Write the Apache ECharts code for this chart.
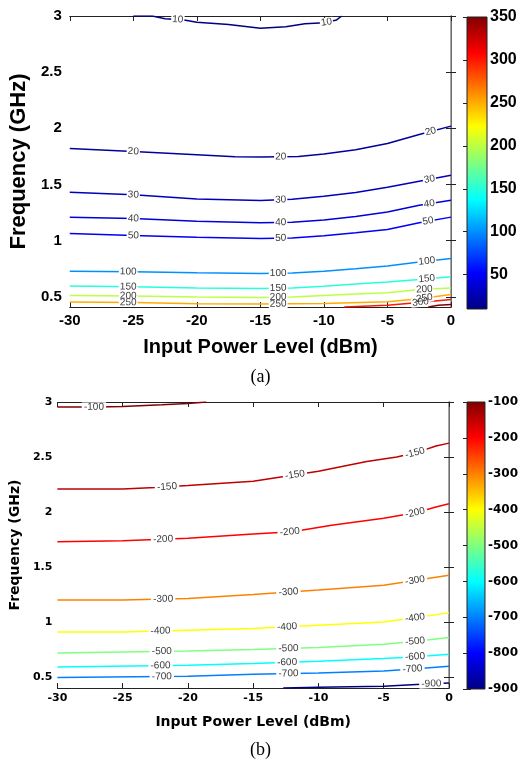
<!DOCTYPE html>
<html>
<head>
<meta charset="utf-8">
<script src="https://cdn.jsdelivr.net/npm/echarts@6/dist/echarts.min.js"></script>
<style>
  html, body { margin: 0; padding: 0; background: #fff; }
  #chart { width: 521px; height: 762px; }
</style>
</head>
<body>
<div id="chart"></div>
<script>
// ---- Panel (a): contour lines, [input power dBm, frequency GHz] ----
const levelsA = [10, 20, 30, 40, 50, 100, 150, 200, 250, 300, 350];
const a10  = [[-25, 3.0], [-23.5, 3.0], [-22.5, 2.975], [-21, 2.965], [-20, 2.945], [-17.5, 2.925], [-15, 2.89], [-13, 2.905], [-11.5, 2.93], [-10, 2.94], [-9, 2.965], [-8.6, 3.0]];
const a20  = [[-30, 1.82], [-25, 1.795], [-20, 1.766], [-17, 1.748], [-15, 1.745], [-12, 1.75], [-10, 1.772], [-7.5, 1.81], [-5, 1.865], [-2.5, 1.945], [0, 2.02]];
const a30  = [[-30, 1.431], [-25, 1.408], [-20, 1.372], [-15, 1.357], [-12.5, 1.37], [-10, 1.395], [-7.5, 1.43], [-5, 1.475], [-2.5, 1.53], [0, 1.582]];
const a40  = [[-30, 1.209], [-25, 1.197], [-20, 1.173], [-15, 1.159], [-12.5, 1.165], [-10, 1.185], [-7.5, 1.215], [-5, 1.255], [-2.5, 1.315], [0, 1.36]];
const a50  = [[-30, 1.064], [-25, 1.046], [-20, 1.031], [-15, 1.02], [-12.5, 1.025], [-10, 1.044], [-7.5, 1.07], [-5, 1.10], [-2.5, 1.16], [0, 1.21]];
const a100 = [[-30, 0.729], [-25, 0.724], [-20, 0.715], [-15, 0.709], [-12.5, 0.712], [-10, 0.728], [-7.5, 0.75], [-5, 0.774], [-2.5, 0.81], [0, 0.842]];
const a150 = [[-30, 0.596], [-25, 0.59], [-20, 0.58], [-15, 0.575], [-12.5, 0.58], [-10, 0.595], [-7.5, 0.615], [-5, 0.632], [-2.5, 0.655], [0, 0.68]];
const a200 = [[-30, 0.513], [-25, 0.508], [-20, 0.498], [-15, 0.495], [-12.5, 0.5], [-10, 0.513], [-7.5, 0.525], [-5, 0.537], [-2.5, 0.565], [0, 0.58]];
const a250 = [[-30, 0.454], [-25, 0.45], [-20, 0.44], [-15, 0.436], [-10, 0.442], [-5, 0.457], [-2.5, 0.483], [0, 0.522]];
const a300 = [[-8.4, 0.41], [-5, 0.425], [-2.5, 0.45], [0, 0.477]];
const a350 = [[-1.8, 0.41], [-1, 0.425], [0, 0.432]];
const linesA = [a10, a20, a30, a40, a50, a100, a150, a200, a250, a300, a350];
// where along x each contour carries its value label
const labelAtA = [[-21.5, -9.8], [-25, -13.4, -1.6], [-25, -13.4, -1.7], [-25, -13.4, -1.7], [-25, -13.4, -1.8],
                  [-25.4, -13.6, -1.9], [-25.4, -13.6, -1.9], [-25.4, -13.6, -2.1], [-25.4, -13.6, -2.1], [-2.4], []];
const colorRangeA = [10, 350];
const cbTicksA = [50, 100, 150, 200, 250, 300, 350];

// ---- Panel (b) ----
const levelsB = [-100, -150, -200, -300, -400, -500, -600, -700, -900];
const b100 = [[-30, 2.954], [-27, 2.955], [-25, 2.96], [-22, 2.975], [-20, 2.987], [-18.6, 3.0]];
const b150 = [[-30, 2.21], [-25, 2.21], [-22.5, 2.222], [-20, 2.24], [-15, 2.28], [-10, 2.37], [-6.3, 2.46], [-4, 2.50], [-2.5, 2.54], [-1, 2.6], [0, 2.626]];
const b200 = [[-30, 1.73], [-25, 1.738], [-20, 1.761], [-15, 1.80], [-12, 1.82], [-9, 1.88], [-5, 1.943], [-2.5, 1.995], [-1, 2.045], [0, 2.075]];
const b300 = [[-30, 1.199], [-25, 1.199], [-20, 1.214], [-15, 1.25], [-10, 1.29], [-5, 1.335], [-2.5, 1.38], [0, 1.426]];
const b400 = [[-30, 0.91], [-25, 0.91], [-20, 0.925], [-15, 0.94], [-10, 0.971], [-5, 1.001], [-2.5, 1.04], [0, 1.083]];
const b500 = [[-30, 0.719], [-20, 0.737], [-15, 0.75], [-10, 0.768], [-5, 0.798], [-2.5, 0.825], [0, 0.859]];
const b600 = [[-30, 0.591], [-20, 0.607], [-15, 0.622], [-10, 0.643], [-5, 0.668], [-2.5, 0.685], [0, 0.707]];
const b700 = [[-30, 0.495], [-20, 0.506], [-15, 0.525], [-10, 0.537], [-5, 0.555], [-2.5, 0.575], [0, 0.598]];
const b900 = [[-12.7, 0.4], [-10, 0.406], [-5, 0.415], [-2.5, 0.432], [0, 0.445]];
const linesB = [b100, b150, b200, b300, b400, b500, b600, b700, b900];
const labelAtB = [[-27.2], [-21.6, -11.8, -2.6], [-21.9, -12.2, -2.6], [-21.9, -12.3, -2.6], [-22.1, -12.4, -2.6],
                  [-22, -12.3, -2.6], [-22.1, -12.4, -2.6], [-22, -12.3, -2.8], [-1.35]];
const colorRangeB = [-900, -100];
const cbTicksB = [-100, -200, -300, -400, -500, -600, -700, -800, -900];

const powerTicks = [-30, -25, -20, -15, -10, -5, 0];
const freqTicks = [0.5, 1, 1.5, 2, 2.5, 3];

// ---- layout ----
const gridA = { left: 63, top: 16, width: 388, height: 291 };
const gridB = { left: 57, top: 402, width: 392, height: 286 };
const cbA = { left: 467, top: 17, width: 20, height: 292 };
const cbB = { left: 467, top: 402, width: 20, height: 287 };
const yMinA = 0.41, yMinB = 0.4;

function jet(t) {
  const c = v => Math.round(255 * Math.max(0, Math.min(1, v)));
  return 'rgb(' + c(1.5 - Math.abs(4 * t - 3)) + ',' + c(1.5 - Math.abs(4 * t - 2)) + ',' + c(1.5 - Math.abs(4 * t - 1)) + ')';
}
const jetStops = [
  { offset: 0, color: '#800000' }, { offset: 0.125, color: '#ff0000' },
  { offset: 0.375, color: '#ffff00' }, { offset: 0.625, color: '#00ffff' },
  { offset: 0.875, color: '#0000ff' }, { offset: 1, color: '#000080' }
];

function yAt(line, x) {
  for (let i = 0; i < line.length - 1; i++) {
    const p = line[i], q = line[i + 1];
    if (x >= p[0] && x <= q[0]) return p[1] + (q[1] - p[1]) * (x - p[0]) / (q[0] - p[0]);
  }
  return x < line[0][0] ? line[0][1] : line[line.length - 1][1];
}
function slopeDeg(line, x, sx, sy) {
  const d = 0.6;
  const y1 = yAt(line, x - d), y2 = yAt(line, x + d);
  return Math.atan2((y2 - y1) * sy, 2 * d * sx) * 180 / Math.PI;
}

function contourSeries(lines, levels, labelAt, range, axisIdx, grid, yMin) {
  const sx = grid.width / 30, sy = grid.height / (3 - yMin);
  return lines.map((line, i) => {
    const t = (levels[i] - range[0]) / (range[1] - range[0]);
    const txt = String(levels[i]);
    return {
      type: 'line', xAxisIndex: axisIdx, yAxisIndex: axisIdx,
      data: line, showSymbol: false, symbol: 'none', silent: true, animation: false,
      lineStyle: { color: jet(t), width: 1.5 },
      markPoint: {
        silent: true, animation: false,
        data: labelAt[i].map(x => {
          const rot = slopeDeg(line, x, sx, sy);
          return {
            coord: [x, yAt(line, x)], value: levels[i],
            symbol: 'rect', symbolSize: [txt.length * 5.6 + 2, 9], symbolRotate: rot,
            itemStyle: { color: '#fff' },
            label: { show: true, position: 'inside', formatter: txt, rotate: rot,
                     color: '#3a3a3a', fontSize: 10, fontFamily: 'Liberation Sans, Arial' }
          };
        })
      }
    };
  });
}

function colorbarSeries(range, xIdx, yIdx) {
  return {
    type: 'custom', xAxisIndex: xIdx, yAxisIndex: yIdx, silent: true, animation: false,
    data: [[0, range[0], 1, range[1]]],
    renderItem: (params, api) => {
      const p1 = api.coord([api.value(0), api.value(3)]);
      const p2 = api.coord([api.value(2), api.value(1)]);
      return {
        type: 'rect',
        shape: { x: p1[0], y: p1[1], width: p2[0] - p1[0], height: p2[1] - p1[1] },
        style: { fill: new echarts.graphic.LinearGradient(0, 0, 0, 1, jetStops), stroke: '#222', lineWidth: 1 }
      };
    }
  };
}

const fontA = 'Liberation Sans, Arial, sans-serif';
const fontB = 'DejaVu Sans, sans-serif';

function plotAxes(gridIndex, yMin, font, sizes) {
  const xs = [
    { type: 'value', gridIndex, min: -30, max: 0, interval: 5, position: 'bottom',
      name: 'Input Power Level (dBm)', nameLocation: 'middle', nameGap: sizes.xNameGap,
      nameTextStyle: { fontFamily: font, fontWeight: 'bold', fontSize: sizes.xTitle, color: '#000' },
      axisLine: { lineStyle: { color: '#222', width: 1 } },
      axisTick: { inside: true, length: 5, lineStyle: { color: '#222' } },
      axisLabel: { fontFamily: font, fontWeight: 'bold', fontSize: sizes.tick, color: '#000', margin: sizes.xMargin },
      splitLine: { show: false } },
    { type: 'value', gridIndex, min: -30, max: 0, interval: 5, position: 'top',
      axisLine: { lineStyle: { color: '#222', width: 1 } },
      axisTick: { inside: true, length: 5, lineStyle: { color: '#222' } },
      axisLabel: { show: false }, splitLine: { show: false } }
  ];
  const ys = [
    { type: 'value', gridIndex, min: yMin, max: 3, position: 'left',
      name: 'Frequency (GHz)', nameLocation: 'middle', nameGap: sizes.yNameGap, nameRotate: 90,
      nameTextStyle: { fontFamily: font, fontWeight: 'bold', fontSize: sizes.yTitle, color: '#000' },
      axisLine: { lineStyle: { color: '#222', width: 1 } },
      axisTick: { inside: true, length: 5, customValues: freqTicks, lineStyle: { color: '#222' } },
      axisLabel: { customValues: freqTicks, fontFamily: font, fontWeight: 'bold', fontSize: sizes.tick, color: '#000', margin: sizes.yMargin },
      splitLine: { show: false } },
    { type: 'value', gridIndex, min: yMin, max: 3, position: 'right',
      axisLine: { lineStyle: { color: '#888', width: 1.5 } },
      axisTick: { inside: true, length: 5, customValues: freqTicks, lineStyle: { color: '#222' } },
      axisLabel: { show: false }, splitLine: { show: false } }
  ];
  return { xs, ys };
}

function cbAxes(gridIndex, range, ticks, font, size) {
  return {
    x: { type: 'value', gridIndex, min: 0, max: 1, show: false },
    ys: [
      { type: 'value', gridIndex, min: range[0], max: range[1], position: 'right',
        axisLine: { show: false },
        axisTick: { inside: true, length: 4, customValues: ticks, lineStyle: { color: '#222' } },
        axisLabel: { customValues: ticks, fontFamily: font, fontWeight: 'bold', fontSize: size, color: '#000', margin: 3 },
        splitLine: { show: false } },
      { type: 'value', gridIndex, min: range[0], max: range[1], position: 'left',
        axisLine: { show: false },
        axisTick: { inside: true, length: 4, customValues: ticks, lineStyle: { color: '#222' } },
        axisLabel: { show: false }, splitLine: { show: false } }
    ]
  };
}

const axA = plotAxes(0, yMinA, fontA, { xTitle: 20, yTitle: 22, tick: 15, xMargin: 6, yMargin: 8, xNameGap: 30, yNameGap: 33 });
const axB = plotAxes(1, yMinB, fontB, { xTitle: 14, yTitle: 14, tick: 11, xMargin: 5, yMargin: 5, xNameGap: 27, yNameGap: 27 });
const cA = cbAxes(2, colorRangeA, cbTicksA, fontA, 16);
const cB = cbAxes(3, colorRangeB, cbTicksB, fontB, 12);

// axis order: xAxis [A-bottom, A-top, B-bottom, B-top, cbA, cbB]
// yAxis [A-left, A-right, B-left, B-right, cbA-right, cbA-left, cbB-right, cbB-left]
const option = {
  backgroundColor: '#fff',
  animation: false,
  title: [
    { text: '(a)', left: 'center', top: 363, textStyle: { fontFamily: 'Liberation Serif, serif', fontWeight: 'normal', fontSize: 18, color: '#000' } },
    { text: '(b)', left: 'center', top: 736, textStyle: { fontFamily: 'Liberation Serif, serif', fontWeight: 'normal', fontSize: 18, color: '#000' } }
  ],
  grid: [gridA, gridB, cbA, cbB],
  xAxis: [axA.xs[0], axA.xs[1], axB.xs[0], axB.xs[1], cA.x, cB.x],
  yAxis: [axA.ys[0], axA.ys[1], axB.ys[0], axB.ys[1], cA.ys[0], cA.ys[1], cB.ys[0], cB.ys[1]],
  series: [
    ...contourSeries(linesA, levelsA, labelAtA, colorRangeA, 0, gridA, yMinA),
    ...contourSeries(linesB, levelsB, labelAtB, colorRangeB, 2, gridB, yMinB),
    colorbarSeries(colorRangeA, 4, 4),
    colorbarSeries(colorRangeB, 5, 6)
  ]
};

const chart = echarts.init(document.getElementById('chart'), null, { renderer: 'canvas' });
chart.setOption(option);
</script>
</body>
</html>
